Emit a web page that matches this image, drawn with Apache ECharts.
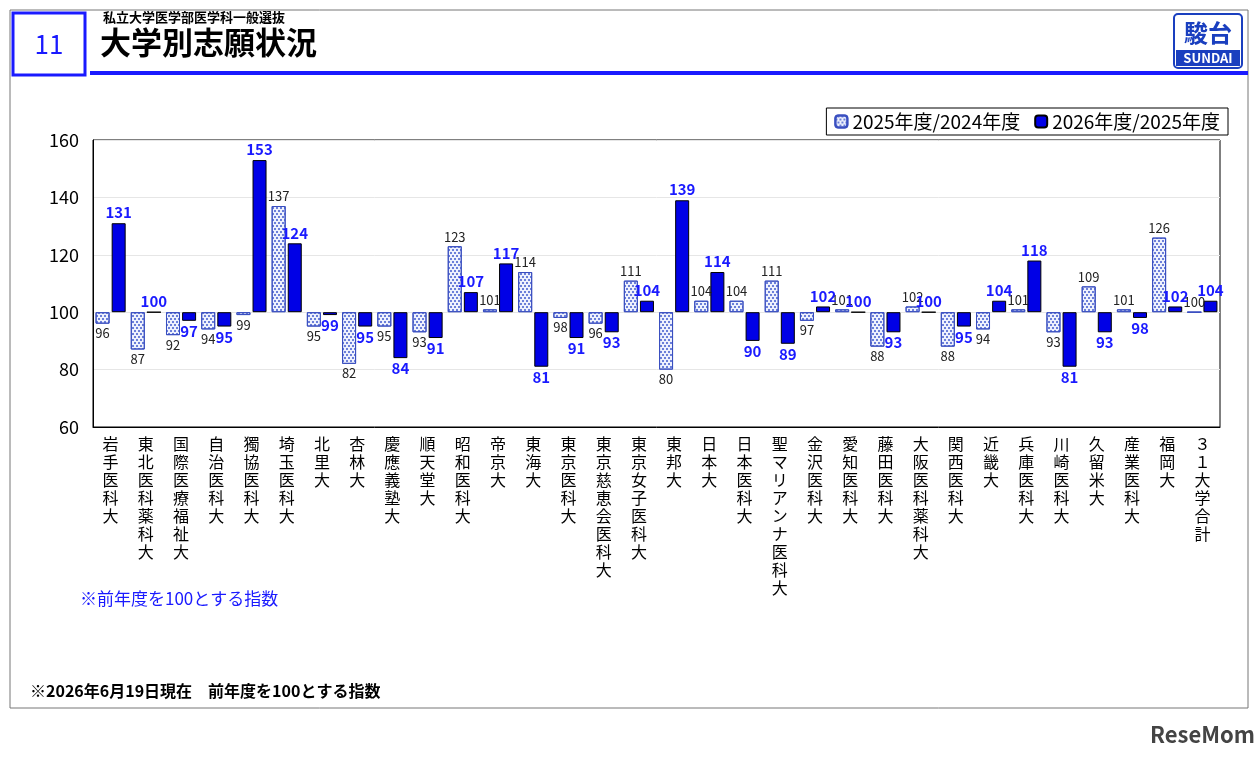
<!DOCTYPE html>
<html><head><meta charset="utf-8">
<script src="https://cdn.jsdelivr.net/npm/echarts@6/dist/echarts.min.js"></script>
<style>html,body{margin:0;padding:0;background:#fff}#c{width:1260px;height:758px}</style>
</head><body><div id="c"></div>
<script>
const categories=['岩手医科大','東北医科薬科大','国際医療福祉大','自治医科大','獨協医科大','埼玉医科大','北里大','杏林大','慶應義塾大','順天堂大','昭和医科大','帝京大','東海大','東京医科大','東京慈恵会医科大','東京女子医科大','東邦大','日本大','日本医科大','聖マリアンナ医科大','金沢医科大','愛知医科大','藤田医科大','大阪医科薬科大','関西医科大','近畿大','兵庫医科大','川崎医科大','久留米大','産業医科大','福岡大','３１大学合計'];
const s2025=[96,87,92,94,99,137,95,82,95,93,123,101,114,98,96,111,80,104,104,111,97,101,88,102,88,94,101,93,109,101,126,100];
const s2026=[131,100,97,95,153,124,99,95,84,91,107,117,81,91,93,104,139,114,90,89,102,100,93,100,95,104,118,81,93,98,102,104];
const yTicks={min:60,max:160,interval:20};
const BASE=100;
const helper=a=>a.map(v=>({value:Math.min(v,BASE),itemStyle:{color:'transparent',borderWidth:0}}));
const vis=a=>a.map(v=>({value:Math.abs(v-BASE),raw:v,label:{position:v>=BASE?'top':'bottom'}}));
const chart=echarts.init(document.getElementById('c'));
const F='"Noto Sans CJK JP","Noto Sans",sans-serif';
chart.setOption({
 animation:false,
 textStyle:{fontFamily:F},
 legend:{top:108,right:32,itemWidth:12,itemHeight:12,itemGap:14,padding:[4,8],borderColor:'#000',borderWidth:1,
   textStyle:{fontSize:19,color:'#000'},data:['2025年度/2024年度','2026年度/2025年度']},
 grid:{left:93,right:40,top:140,bottom:331,show:true,borderColor:'#000',borderWidth:1},
 xAxis:{type:'category',data:categories,axisTick:{show:false},axisLine:{lineStyle:{color:'#000'}},
   axisLabel:{interval:0,fontSize:16,color:'#000',lineHeight:18,margin:8,verticalAlign:'top',
   formatter:v=>v.split('').join('\n')}},
 yAxis:{type:'value',min:yTicks.min,max:yTicks.max,interval:yTicks.interval,
   axisLabel:{fontSize:18,color:'#000',margin:14},axisLine:{show:true,lineStyle:{color:'#000'}},
   splitLine:{lineStyle:{color:'#e6e6e6'}}},
 series:[
  {type:'bar',stack:'a',data:helper(s2025),barWidth:14,barGap:'15%',silent:true},
  {name:'2025年度/2024年度',type:'bar',stack:'a',data:vis(s2025),barWidth:14,
   itemStyle:{color:'#eef1fd',borderColor:'#3a4fc0',borderWidth:1,
     decal:{symbol:'circle',symbolSize:1,color:'#3f58cc',dashArrayX:[[2,2],[0,2,2,0]],dashArrayY:[2,1]}},
   label:{show:true,fontSize:13,color:'#222',distance:3,formatter:p=>p.data.raw}},
  {type:'bar',stack:'b',data:helper(s2026),barWidth:14,silent:true},
  {name:'2026年度/2025年度',type:'bar',stack:'b',data:vis(s2026),barWidth:14,
   itemStyle:{color:'#0000e6',borderColor:'#000',borderWidth:1},
   label:{show:true,fontSize:15,fontWeight:'bold',color:'#1a1aff',distance:3,formatter:p=>p.data.raw}}
 ],
 graphic:[
  {type:'rect',shape:{x:10,y:10,width:1238,height:698},style:{fill:'none',stroke:'#777',lineWidth:1}},
  {type:'rect',shape:{x:13,y:13,width:72,height:62},style:{fill:'#fff',stroke:'#1a1aff',lineWidth:3}},
  {type:'text',x:49,y:44,style:{text:'11',fontSize:26,fill:'#1a1aff',align:'center',verticalAlign:'middle',fontFamily:F}},
  {type:'rect',shape:{x:90,y:71,width:1158,height:4},style:{fill:'#1a1aff'}},
  {type:'text',x:103,y:11,style:{text:'私立大学医学部医学科一般選抜',fontSize:13,fontWeight:'bold',fill:'#000',fontFamily:F}},
  {type:'text',x:100,y:27,style:{text:'大学別志願状況',fontSize:31,fontWeight:'bold',fill:'#000',fontFamily:F}},
  {type:'rect',shape:{x:1174,y:14,width:68,height:54,r:4},style:{fill:'#fff',stroke:'#1a3fbf',lineWidth:2}},
  {type:'text',x:1208,y:33,style:{text:'駿台',fontSize:24,fontWeight:'bold',fill:'#1a3fbf',align:'center',verticalAlign:'middle',fontFamily:F}},
  {type:'rect',shape:{x:1176,y:50,width:64,height:16},style:{fill:'#1a3fbf'}},
  {type:'text',x:1208,y:58,style:{text:'SUNDAI',fontSize:13,fontWeight:'bold',fill:'#fff',align:'center',verticalAlign:'middle',fontFamily:F}},
  {type:'text',x:80,y:590,style:{text:'※前年度を100とする指数',fontSize:17,fill:'#1a1aff',fontFamily:F}},
  {type:'text',x:30,y:683,style:{text:'※2026年6月19日現在　前年度を100とする指数',fontSize:16,fontWeight:'bold',fill:'#000',fontFamily:F}},
  {type:'text',x:1150,y:724,style:{text:'ReseMom',fontSize:22,fontWeight:'bold',fill:'#444',fontFamily:F}}
 ]
});
</script></body></html>
